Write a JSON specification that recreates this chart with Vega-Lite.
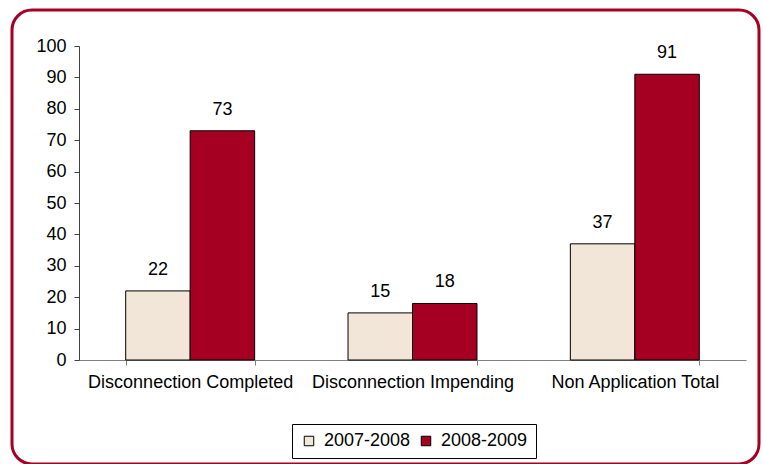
{
  "$schema": "https://vega.github.io/schema/vega-lite/v6.json",
  "autosize": {"type": "none"},
  "padding": {"left": 12, "top": 10, "right": 4, "bottom": 0},
  "width": 747,
  "height": 454,
  "background": "white",
  "config": {
    "view": {"stroke": "#A50021", "strokeWidth": 3, "cornerRadius": 20, "fill": "white"},
    "font": "Liberation Sans",
    "axis": {"labelFont": "Liberation Sans", "labelFontSize": 18, "labelColor": "#000000", "grid": false, "title": null, "labelLimit": 0},
    "legend": {"labelFont": "Liberation Sans"}
  },
  "data": {
    "values": [
      {"category": "Disconnection Completed", "year": "2007-2008", "value": 22},
      {"category": "Disconnection Completed", "year": "2008-2009", "value": 73},
      {"category": "Disconnection Impending", "year": "2007-2008", "value": 15},
      {"category": "Disconnection Impending", "year": "2008-2009", "value": 18},
      {"category": "Non Application Total", "year": "2007-2008", "value": 37},
      {"category": "Non Application Total", "year": "2008-2009", "value": 91}
    ]
  },
  "encoding": {
    "x": {
      "field": "category", "type": "nominal", "sort": null,
      "scale": {"range": [67, 734], "paddingInner": 0.42, "paddingOuter": 0.21},
      "axis": {
        "offset": -104, "labelAngle": 0, "tickBand": "extent", "tickSize": 5,
        "domainColor": "#808080", "tickColor": "#808080", "labelPadding": 8
      }
    },
    "xOffset": {"field": "year", "type": "nominal"},
    "y": {
      "field": "value", "type": "quantitative",
      "scale": {"domain": [0, 100], "range": [350, 36], "nice": false, "zero": true},
      "axis": {
        "offset": -67, "values": [0, 10, 20, 30, 40, 50, 60, 70, 80, 90, 100],
        "tickSize": 5, "domainColor": "#404040", "tickColor": "#404040", "labelPadding": 8
      }
    }
  },
  "layer": [
    {
      "mark": {"type": "bar", "stroke": "#000000", "strokeWidth": 1},
      "encoding": {
        "color": {
          "field": "year", "type": "nominal",
          "scale": {"domain": ["2007-2008", "2008-2009"], "range": ["#F2E6D9", "#A50021"]},
          "legend": {
            "title": null, "orient": "none", "legendX": 280, "legendY": 414,
            "direction": "horizontal", "strokeColor": "#000000", "fillColor": "white",
            "padding": 8, "labelFontSize": 18, "labelColor": "#000000",
            "symbolType": "square", "symbolSize": 90, "symbolStrokeColor": "#000000",
            "symbolStrokeWidth": 1, "symbolOpacity": 1, "labelOffset": 6, "columnPadding": 6
          }
        }
      }
    },
    {
      "mark": {"type": "text", "dy": -16, "baseline": "alphabetic", "fontSize": 18, "color": "#000000", "font": "Liberation Sans"},
      "encoding": {"text": {"field": "value", "type": "quantitative"}}
    }
  ]
}
